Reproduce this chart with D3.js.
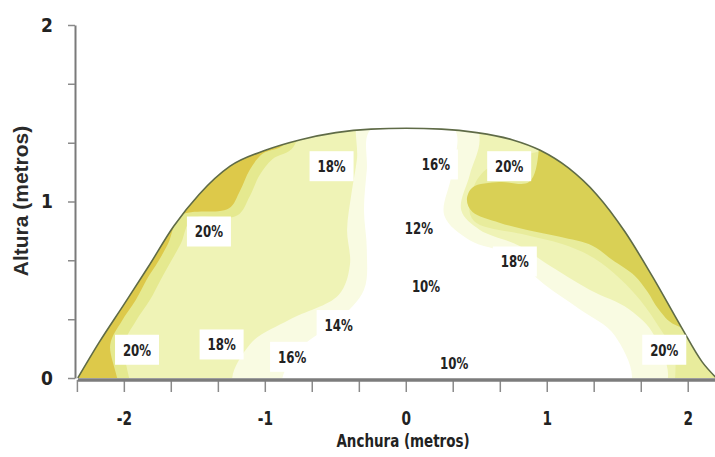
<!DOCTYPE html>
<html>
<head>
<meta charset="utf-8">
<script src="https://cdn.jsdelivr.net/npm/d3@7"></script>
<style>
  body { margin: 0; background: #fff; }
  svg { display: block; }
  .narrow { font-family: "Liberation Sans Narrow", "DejaVu Sans Condensed", sans-serif; font-weight: bold; }
</style>
</head>
<body>
<div id="chart"></div>
<script>
// cross-section outline, [anchura, altura] in metres
const outline = [[-2.33,0],[-2.18,0.2],[-2.0,0.42],[-1.83,0.63],[-1.65,0.86],[-1.47,1.04],[-1.25,1.2],
  [-1.0,1.29],[-0.75,1.35],[-0.5,1.39],[-0.25,1.41],[0,1.415],[0.25,1.41],[0.5,1.39],[0.75,1.35],
  [0.95,1.29],[1.15,1.19],[1.35,1.04],[1.55,0.83],[1.75,0.57],[1.95,0.29],[2.1,0.09],[2.2,0]];

// humidity bands (regions), clipped to the outline
const band19Left = [[-1.97,-0.2],[-2.0,0.19],[-1.92,0.32],[-1.82,0.44],[-1.74,0.56],[-1.67,0.66],
  [-1.6,0.76],[-1.52,0.9],[-1.2,0.92],[-1.11,1.03],[-1.04,1.15],[-0.95,1.24],[-0.8,1.31],
  [-0.75,1.7],[-2.7,1.7],[-2.7,-0.2]];
const band20Left = [[-2.06,-0.1],[-2.1,0.19],[-2.02,0.32],[-1.92,0.44],[-1.84,0.56],[-1.76,0.66],
  [-1.69,0.76],[-1.6,0.92],[-1.26,0.96],[-1.18,1.06],[-1.11,1.18],[-1.02,1.27],[-0.86,1.33],
  [-0.83,1.7],[-2.7,1.7],[-2.7,-0.1]];
const band19Right = [[0.45,1.0],[0.48,0.89],[0.85,0.81],[1.1,0.76],[1.33,0.68],[1.52,0.56],[1.66,0.44],
  [1.8,0.28],[1.9,0.14],[1.95,-0.2],[2.7,-0.2],[2.7,1.2],[0.6,1.2]];
const band20Right = [[0.66,1.11],[0.87,1.11],[0.94,1.29],[0.9,1.7],[2.7,1.7],[2.7,0.2],[1.91,0.3],
  [1.79,0.39],[1.71,0.49],[1.62,0.58],[1.46,0.67],[1.32,0.75],[1.09,0.8],[0.85,0.84],[0.66,0.88],
  [0.47,0.94],[0.43,1.01],[0.47,1.08]];
const band16 = [[-0.32,1.52],[0.45,1.52],[0.52,1.35],[0.45,1.15],[0.39,0.95],[0.52,0.84],[0.8,0.75],
  [1.01,0.64],[1.3,0.5],[1.58,0.39],[1.76,0.24],[1.83,-0.05],[-1.22,-0.05],[-1.11,0.19],[-0.83,0.33],
  [-0.48,0.47],[-0.4,0.64],[-0.42,0.84],[-0.39,1.04],[-0.35,1.24]];
const band12 = [[-0.25,1.41],[0.34,1.41],[0.32,1.15],[0.27,0.92],[0.45,0.78],[0.73,0.7],[0.98,0.53],
  [1.23,0.39],[1.48,0.24],[1.58,-0.05],[-0.87,-0.05],[-0.76,0.16],[-0.48,0.33],[-0.3,0.5],
  [-0.28,0.73],[-0.3,0.95],[-0.28,1.18]];

const labelText = ["18%","16%","20%","20%","12%","18%","10%","14%","20%","18%","16%","10%","20%"];
const labelX = [-0.53, 0.21, 0.73, -1.40, 0.09, 0.77, 0.14, -0.48, -1.91, -1.31, -0.81, 0.34, 1.83];
const labelY = [1.20, 1.21, 1.20, 0.83, 0.85, 0.66, 0.52, 0.30, 0.16, 0.19, 0.12, 0.085, 0.16];

const xTicks = [-2.333,-2,-1.667,-1.333,-1,-0.667,-0.333,0,0.333,0.667,1,1.333,1.667,2];
const yTicks = [0,0.333,0.667,1,1.333,1.667,2];
const xLabelTicks = [-2,-1,0,1,2];
const yLabelTicks = [0,1,2];

const width = 715, height = 457;

const x = d3.scaleLinear().domain([-2.35, 2.19]).range([75, 715]);
const y = d3.scaleLinear().domain([0, 2]).range([378, 25]);

const svg = d3.select("#chart").append("svg")
  .attr("width", width)
  .attr("height", height);

const area = d3.area()
  .x(d => x(d[0]))
  .y0(y(0))
  .y1(d => y(d[1]))
  .curve(d3.curveMonotoneX);

const ridge = d3.line()
  .x(d => x(d[0]))
  .y(d => y(d[1]))
  .curve(d3.curveMonotoneX);

const blob = d3.line()
  .x(d => x(d[0]))
  .y(d => y(d[1]))
  .curve(d3.curveCatmullRomClosed.alpha(0.5));

svg.append("clipPath").attr("id", "shape")
  .append("path").attr("d", area(outline));

// base fill (18%)
svg.append("path")
  .attr("d", area(outline))
  .style("fill", "#eff3b6");

const bands = svg.append("g").attr("clip-path", "url(#shape)");
const layers = [
  [band19Left, "#e5e98f"],
  [band19Right, "#e8ec9c"],
  [band20Left, "#ddc94a"],
  [band20Right, "#d9d055"],
  [band16, "#f9fbe2"],
  [band12, "#ffffff"]
];
layers.forEach(function(l) {
  bands.append("path").attr("d", blob(l[0])).style("fill", l[1]);
});

svg.append("path")
  .attr("d", ridge(outline))
  .style("fill", "none")
  .style("stroke", "#5f6b47")
  .style("stroke-width", 1.6);

// axes
const xAxis = d3.axisBottom(x)
  .tickValues(xTicks)
  .tickSize(12)
  .tickSizeOuter(0)
  .tickPadding(20)
  .tickFormat(d => xLabelTicks.includes(d) ? String(d) : "");

const yAxis = d3.axisLeft(y)
  .tickValues(yTicks)
  .tickSize(7)
  .tickSizeOuter(0)
  .tickPadding(15)
  .tickFormat(d => yLabelTicks.includes(d) ? String(d) : "");

const gx = svg.append("g")
  .attr("transform", "translate(0," + 380 + ")")
  .call(xAxis);
gx.select(".domain").remove();
gx.selectAll("line").style("stroke", "#8a8a8a").style("stroke-width", 1.5);
gx.selectAll("text").attr("class", "narrow")
  .attr("transform", "scale(0.8,1)")
  .style("font-size", "19px").style("fill", "#222");
gx.selectAll(".tick").attr("transform", d => "translate(" + x(d) + ",0)");

svg.append("line")
  .attr("x1", x(-2.33)).attr("x2", width)
  .attr("y1", 380).attr("y2", 380)
  .style("stroke", "#7c7c7c")
  .style("stroke-width", 3.5);

const gy = svg.append("g")
  .attr("transform", "translate(75,0)")
  .call(yAxis);
gy.select(".domain").style("stroke", "#7a7a7a").style("stroke-width", 2);
gy.selectAll("line").style("stroke", "#8a8a8a").style("stroke-width", 1.5);
gy.selectAll("text").attr("class", "narrow").style("font-size", "19px").style("fill", "#222");

svg.append("g")
  .attr("transform", "translate(403,447) scale(0.83,1)")
  .append("text")
  .attr("class", "narrow")
  .style("text-anchor", "middle")
  .style("font-size", "18px")
  .style("fill", "#222")
  .text("Anchura (metros)");

svg.append("text")
  .attr("transform", "translate(28,201) rotate(-90)")
  .style("text-anchor", "middle")
  .style("font-family", "'Liberation Sans', Arial, sans-serif")
  .style("font-weight", "bold")
  .style("font-size", "21px")
  .style("fill", "#2a2a2a")
  .text("Altura (metros)");

// percentage labels
const labels = svg.selectAll(".pct")
  .data(labelText)
  .enter().append("g")
  .attr("class", "pct")
  .attr("transform", (d, i) => "translate(" + x(labelX[i]) + "," + y(labelY[i]) + ")");

labels.append("rect")
  .attr("x", -22).attr("y", -15)
  .attr("width", 44).attr("height", 30)
  .style("fill", "#fff");

labels.append("text")
  .attr("class", "narrow")
  .attr("dy", "0.36em")
  .attr("transform", "scale(0.82,1)")
  .style("text-anchor", "middle")
  .style("font-size", "16px")
  .style("fill", "#222")
  .text(d => d);
</script>
</body>
</html>
